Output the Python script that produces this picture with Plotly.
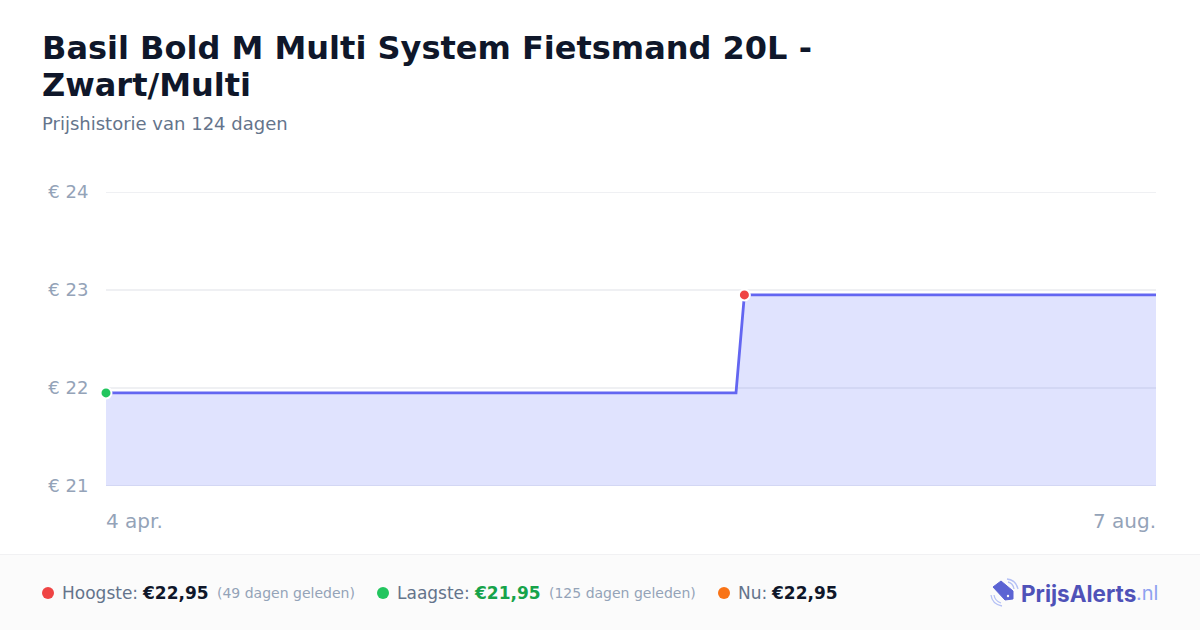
import plotly.graph_objects as go

W, H = 1200, 630

dates  = ['2025-04-04', '2025-06-18', '2025-06-19', '2025-08-07']
prices = [21.95, 21.95, 22.95, 22.95]

low_date,  low_price  = '2025-04-04', 21.95
high_date, high_price = '2025-06-19', 22.95

y_ticks  = [21, 22, 23, 24]
y_labels = ['€ 21', '€ 22', '€ 23', '€ 24']

title_lines = ['Basil Bold M Multi System Fietsmand 20L -', 'Zwart/Multi']
subtitle    = 'Prijshistorie van 124 dagen'
first_label = '4 apr.'
last_label  = '7 aug.'

FONT = 'DejaVu Sans'


def px(x):
    return x / W


def py(y):
    return 1 - y / H


def text(x, y, s, size, color, bold=False, anchor='left', family=FONT):
    return dict(x=px(x), y=py(y), xref='paper', yref='paper', text=f'<b>{s}</b>' if bold else s,
                showarrow=False, xanchor=anchor, yanchor='middle',
                font=dict(family=family, size=size, color=color),
                borderpad=0, borderwidth=0)


def dot(x, y, r, color):
    return dict(type='circle', xref='paper', yref='paper', layer='above',
                x0=px(x - r), x1=px(x + r), y0=py(y + r), y1=py(y - r),
                fillcolor=color, line=dict(width=0))


def path(points, **kw):
    d = 'M ' + ' L '.join(f'{px(x):.5f} {py(y):.5f}' for x, y in points) + ' Z'
    return dict(type='path', xref='paper', yref='paper', layer='above', path=d, **kw)


def arc(d, color):
    return dict(type='path', xref='paper', yref='paper', layer='above', path=d,
                line=dict(color=color, width=1.3))


def svg(*pts):
    # quadratic curve through three pixel points
    (a, b), (c, e), (f, g) = pts
    return f'M {px(a):.5f} {py(b):.5f} Q {px(c):.5f} {py(e):.5f} {px(f):.5f} {py(g):.5f}'


fig = go.Figure()

# price line with area
fig.add_trace(go.Scatter(x=dates, y=prices, mode='lines', fill='tozeroy',
                         fillcolor='rgba(100,115,250,0.2)',
                         line=dict(color='#6366f1', width=2.8), hoverinfo='skip'))

# high / low markers
fig.add_trace(go.Scatter(x=[low_date, high_date], y=[low_price, high_price], mode='markers',
                         marker=dict(size=11, color=['#22c55e', '#ef4444'],
                                     line=dict(color='white', width=2)),
                         cliponaxis=False, hoverinfo='skip'))

annotations = [
    text(42, 48, title_lines[0], 32, '#0f172a', bold=True),
    text(42, 85, title_lines[1], 32, '#0f172a', bold=True),
    text(42, 124, subtitle, 18, '#64748b'),
    dict(x=dates[0], y=0, xref='x', yref='paper', text=first_label, showarrow=False,
         xanchor='left', yanchor='middle', yshift=630 - 521, xshift=-2,
         font=dict(family=FONT, size=20, color='#94a3b8')),
    dict(x=dates[-1], y=0, xref='x', yref='paper', text=last_label, showarrow=False,
         xanchor='right', yanchor='middle', yshift=630 - 521, xshift=2,
         font=dict(family=FONT, size=20, color='#94a3b8')),
    # footer stats
    text(62, 593, 'Hoogste:', 17, '#64748b'),
    text(142, 593, '€22,95', 17, '#0f172a', bold=True),
    text(217, 593, '(49 dagen geleden)', 14, '#94a3b8'),
    text(397, 593, 'Laagste:', 17, '#64748b'),
    text(474, 593, '€21,95', 17, '#16a34a', bold=True),
    text(549, 593, '(125 dagen geleden)', 14, '#94a3b8'),
    text(738, 593, 'Nu:', 17, '#64748b'),
    text(771, 593, '€22,95', 17, '#0f172a', bold=True),
    # logo
    text(1021, 593, 'PrijsAlerts', 22.5, '#4f52b8', bold=True, family='Inter'),
    text(1136, 593, '.nl', 20, '#8ea2f0', family='Inter'),
]

shapes = [
    # footer band
    dict(type='rect', xref='paper', yref='paper', layer='below', x0=0, x1=1, y0=0, y1=py(555),
         fillcolor='#fbfbfb', line=dict(width=0)),
    dict(type='line', xref='paper', yref='paper', layer='below', x0=0, x1=1, y0=py(554.5), y1=py(554.5),
         line=dict(color='#f1f1f3', width=1)),
    dot(48, 593, 6, '#ef4444'),
    dot(383, 593, 6, '#22c55e'),
    dot(724, 593, 6, '#f97316'),
    # logo tag
    path([(993, 587), (1001, 581), (1013, 591), (1013, 599), (1005, 600)],
         fillcolor='#5b63d3', line=dict(color='#5b63d3', width=1)),
    dot(1008, 596, 1.2, '#fafafa'),
    arc(svg((1008, 582), (1013, 583), (1014, 589)), '#b4c0f5'),
    arc(svg((1007, 579), (1016, 580), (1018, 589)), '#b4c0f5'),
    arc(svg((994, 595), (995, 601), (1001, 603)), '#b4c0f5'),
    arc(svg((991, 595), (992, 604), (1002, 606)), '#b4c0f5'),
]

# plotly drops gridlines on the range ends, so draw them all as shapes
for tick in y_ticks:
    shapes.append(dict(type='line', xref='x domain', yref='y', layer='below', x0=0, x1=1, y0=tick, y1=tick,
                       line=dict(color='#eff0f3', width=2)))

fig.update_layout(
    width=W, height=H, margin=dict(l=0, r=0, t=0, b=0, pad=0, autoexpand=False),
    paper_bgcolor='white', plot_bgcolor='white', showlegend=False,
    annotations=annotations, shapes=shapes,
    xaxis=dict(domain=[px(106), px(1156)], range=[dates[0], dates[-1]], type='date', automargin=False,
               showgrid=False, zeroline=False, showticklabels=False, ticks=''),
    yaxis=dict(domain=[py(486), py(192)], range=[21, 24], tickvals=y_ticks, ticktext=y_labels,
               automargin=False,
               showgrid=False, zeroline=False, showline=False,
               ticks='outside', ticklen=13, tickcolor='rgba(0,0,0,0)',
               tickfont=dict(family=FONT, size=18, color='#94a3b8')),
)

# the page's default body margin would shift the whole figure
fig.write_html('out.html', config=dict(displayModeBar=False), post_script="document.body.style.margin='0';")
